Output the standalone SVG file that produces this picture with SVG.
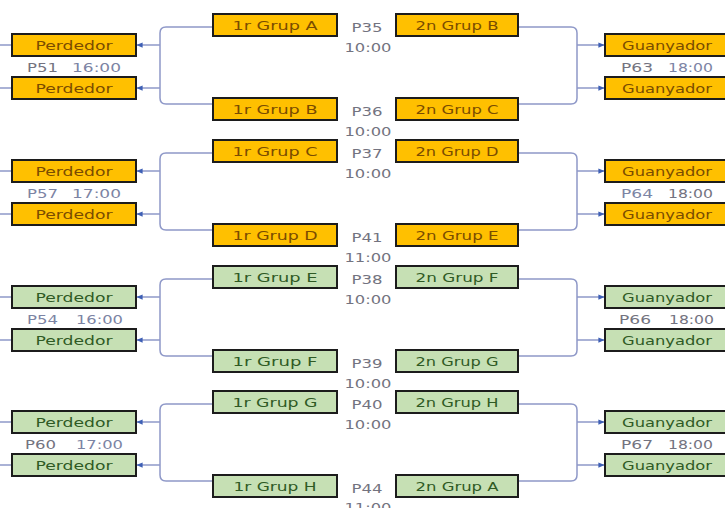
<svg xmlns="http://www.w3.org/2000/svg" width="725" height="508" viewBox="0 0 725 508">
<defs>
<marker id="ah" viewBox="0 0 8 8" refX="7.5" refY="4" markerWidth="6" markerHeight="6" orient="auto" markerUnits="userSpaceOnUse">
<path d="M0,0.5 L8,4 L0,7.5 Z" fill="#3d5fb5"/>
</marker>
<style>
text{font-family:"DejaVu Sans","Liberation Sans",sans-serif;font-size:13px}
.o rect{fill:#FFC000;stroke:#1c1c1c;stroke-width:2}
.g rect{fill:#C6E0B4;stroke:#1c1c1c;stroke-width:2}
.o text{fill:#7a4c00;text-anchor:middle}
.g text{fill:#2f5a24;text-anchor:middle}
text.lbl{fill:#737380;font-size:12px}
text.tm{fill:#7c84a4;font-size:12px}
text.st{text-anchor:start}
.conn path{fill:none;stroke:#8e98c8;stroke-width:1.5}
.conn .a{marker-end:url(#ah)}
</style>
</defs>
<rect width="725" height="508" fill="#ffffff"/>

<g class="conn" id="connectors">
<path d="M213,27 H166 Q160,27 160,33 V98 Q160,104 166,104 H213"/>
<path d="M518,27 H571 Q577,27 577,33 V98 Q577,104 571,104 H518"/>
<path class="a" d="M160,45 H137"/><path class="a" d="M160,88 H137"/>
<path class="a" d="M577,45 H604"/><path class="a" d="M577,88 H604"/>
<path d="M0,45 H12"/><path d="M0,88 H12"/>
<path d="M213,153 H166 Q160,153 160,159 V224 Q160,230 166,230 H213"/>
<path d="M518,153 H571 Q577,153 577,159 V224 Q577,230 571,230 H518"/>
<path class="a" d="M160,171 H137"/><path class="a" d="M160,214 H137"/>
<path class="a" d="M577,171 H604"/><path class="a" d="M577,214 H604"/>
<path d="M0,171 H12"/><path d="M0,214 H12"/>
<path d="M213,279 H166 Q160,279 160,285 V350 Q160,356 166,356 H213"/>
<path d="M518,279 H571 Q577,279 577,285 V350 Q577,356 571,356 H518"/>
<path class="a" d="M160,297 H137"/><path class="a" d="M160,340 H137"/>
<path class="a" d="M577,297 H604"/><path class="a" d="M577,340 H604"/>
<path d="M0,297 H12"/><path d="M0,340 H12"/>
<path d="M213,404 H166 Q160,404 160,410 V475 Q160,481 166,481 H213"/>
<path d="M518,404 H571 Q577,404 577,410 V475 Q577,481 571,481 H518"/>
<path class="a" d="M160,422 H137"/><path class="a" d="M160,465 H137"/>
<path class="a" d="M577,422 H604"/><path class="a" d="M577,465 H604"/>
<path d="M0,422 H12"/><path d="M0,465 H12"/>
</g>

<g id="p35" class="o">
<rect x="213" y="14" width="124" height="22"/><text x="275" y="30" textLength="85" lengthAdjust="spacingAndGlyphs">1r Grup A</text>
<rect x="396" y="14" width="122" height="22"/><text x="457" y="30" textLength="83" lengthAdjust="spacingAndGlyphs">2n Grup B</text>
<text class="lbl" x="367" y="32" textLength="31" lengthAdjust="spacingAndGlyphs">P35</text>
<text class="lbl" x="368" y="52" textLength="47" lengthAdjust="spacingAndGlyphs">10:00</text>
</g>
<g id="p36" class="o">
<rect x="213" y="98" width="124" height="22"/><text x="275" y="114" textLength="85" lengthAdjust="spacingAndGlyphs">1r Grup B</text>
<rect x="396" y="98" width="122" height="22"/><text x="457" y="114" textLength="83" lengthAdjust="spacingAndGlyphs">2n Grup C</text>
<text class="lbl" x="367" y="116" textLength="31" lengthAdjust="spacingAndGlyphs">P36</text>
<text class="lbl" x="368" y="136" textLength="47" lengthAdjust="spacingAndGlyphs">10:00</text>
</g>
<g id="p51" class="o">
<rect x="12" y="34" width="124" height="22"/><text x="74" y="50" textLength="77" lengthAdjust="spacingAndGlyphs">Perdedor</text>
<rect x="12" y="77" width="124" height="22"/><text x="74" y="93" textLength="77" lengthAdjust="spacingAndGlyphs">Perdedor</text>
<text class="lbl st" x="27" y="72" textLength="31" lengthAdjust="spacingAndGlyphs">P51</text>
<text class="tm st" x="72" y="72" textLength="49" lengthAdjust="spacingAndGlyphs">16:00</text>
</g>
<g id="p63" class="o">
<rect x="605" y="34" width="124" height="22"/><text x="667" y="50" textLength="90" lengthAdjust="spacingAndGlyphs">Guanyador</text>
<rect x="605" y="77" width="124" height="22"/><text x="667" y="93" textLength="90" lengthAdjust="spacingAndGlyphs">Guanyador</text>
<text class="lbl st" x="621" y="72" textLength="32" lengthAdjust="spacingAndGlyphs">P63</text>
<text class="tm st" x="668" y="72" textLength="45" lengthAdjust="spacingAndGlyphs">18:00</text>
</g>

<g id="p37" class="o">
<rect x="213" y="140" width="124" height="22"/><text x="275" y="156" textLength="85" lengthAdjust="spacingAndGlyphs">1r Grup C</text>
<rect x="396" y="140" width="122" height="22"/><text x="457" y="156" textLength="83" lengthAdjust="spacingAndGlyphs">2n Grup D</text>
<text class="lbl" x="367" y="158" textLength="31" lengthAdjust="spacingAndGlyphs">P37</text>
<text class="lbl" x="368" y="178" textLength="47" lengthAdjust="spacingAndGlyphs">10:00</text>
</g>
<g id="p41" class="o">
<rect x="213" y="224" width="124" height="22"/><text x="275" y="240" textLength="85" lengthAdjust="spacingAndGlyphs">1r Grup D</text>
<rect x="396" y="224" width="122" height="22"/><text x="457" y="240" textLength="83" lengthAdjust="spacingAndGlyphs">2n Grup E</text>
<text class="lbl" x="367" y="242" textLength="31" lengthAdjust="spacingAndGlyphs">P41</text>
<text class="lbl" x="368" y="262" textLength="47" lengthAdjust="spacingAndGlyphs">11:00</text>
</g>
<g id="p57" class="o">
<rect x="12" y="160" width="124" height="22"/><text x="74" y="176" textLength="77" lengthAdjust="spacingAndGlyphs">Perdedor</text>
<rect x="12" y="203" width="124" height="22"/><text x="74" y="219" textLength="77" lengthAdjust="spacingAndGlyphs">Perdedor</text>
<text class="tm st" x="27" y="198" textLength="31" lengthAdjust="spacingAndGlyphs">P57</text>
<text class="tm st" x="72" y="198" textLength="49" lengthAdjust="spacingAndGlyphs">17:00</text>
</g>
<g id="p64" class="o">
<rect x="605" y="160" width="124" height="22"/><text x="667" y="176" textLength="90" lengthAdjust="spacingAndGlyphs">Guanyador</text>
<rect x="605" y="203" width="124" height="22"/><text x="667" y="219" textLength="90" lengthAdjust="spacingAndGlyphs">Guanyador</text>
<text class="tm st" x="621" y="198" textLength="32" lengthAdjust="spacingAndGlyphs">P64</text>
<text class="lbl st" x="668" y="198" textLength="45" lengthAdjust="spacingAndGlyphs">18:00</text>
</g>

<g id="p38" class="g">
<rect x="213" y="266" width="124" height="22"/><text x="275" y="282" textLength="85" lengthAdjust="spacingAndGlyphs">1r Grup E</text>
<rect x="396" y="266" width="122" height="22"/><text x="457" y="282" textLength="83" lengthAdjust="spacingAndGlyphs">2n Grup F</text>
<text class="lbl" x="367" y="284" textLength="31" lengthAdjust="spacingAndGlyphs">P38</text>
<text class="lbl" x="368" y="304" textLength="47" lengthAdjust="spacingAndGlyphs">10:00</text>
</g>
<g id="p39" class="g">
<rect x="213" y="350" width="124" height="22"/><text x="275" y="366" textLength="85" lengthAdjust="spacingAndGlyphs">1r Grup F</text>
<rect x="396" y="350" width="122" height="22"/><text x="457" y="366" textLength="83" lengthAdjust="spacingAndGlyphs">2n Grup G</text>
<text class="lbl" x="367" y="368" textLength="31" lengthAdjust="spacingAndGlyphs">P39</text>
<text class="lbl" x="368" y="388" textLength="47" lengthAdjust="spacingAndGlyphs">10:00</text>
</g>
<g id="p54" class="g">
<rect x="12" y="286" width="124" height="22"/><text x="74" y="302" textLength="77" lengthAdjust="spacingAndGlyphs">Perdedor</text>
<rect x="12" y="329" width="124" height="22"/><text x="74" y="345" textLength="77" lengthAdjust="spacingAndGlyphs">Perdedor</text>
<text class="tm st" x="27" y="324" textLength="31" lengthAdjust="spacingAndGlyphs">P54</text>
<text class="tm st" x="76" y="324" textLength="47" lengthAdjust="spacingAndGlyphs">16:00</text>
</g>
<g id="p66" class="g">
<rect x="605" y="286" width="124" height="22"/><text x="667" y="302" textLength="90" lengthAdjust="spacingAndGlyphs">Guanyador</text>
<rect x="605" y="329" width="124" height="22"/><text x="667" y="345" textLength="90" lengthAdjust="spacingAndGlyphs">Guanyador</text>
<text class="lbl st" x="619" y="324" textLength="32" lengthAdjust="spacingAndGlyphs">P66</text>
<text class="lbl st" x="669" y="324" textLength="45" lengthAdjust="spacingAndGlyphs">18:00</text>
</g>

<g id="p40" class="g">
<rect x="213" y="391" width="124" height="22"/><text x="275" y="407" textLength="85" lengthAdjust="spacingAndGlyphs">1r Grup G</text>
<rect x="396" y="391" width="122" height="22"/><text x="457" y="407" textLength="83" lengthAdjust="spacingAndGlyphs">2n Grup H</text>
<text class="lbl" x="367" y="409" textLength="31" lengthAdjust="spacingAndGlyphs">P40</text>
<text class="lbl" x="368" y="429" textLength="47" lengthAdjust="spacingAndGlyphs">10:00</text>
</g>
<g id="p44" class="g">
<rect x="213" y="475" width="124" height="22"/><text x="275" y="491" textLength="83" lengthAdjust="spacingAndGlyphs">1r Grup H</text>
<rect x="396" y="475" width="122" height="22"/><text x="457" y="491" textLength="83" lengthAdjust="spacingAndGlyphs">2n Grup A</text>
<text class="lbl" x="367" y="493" textLength="31" lengthAdjust="spacingAndGlyphs">P44</text>
<text class="lbl" x="368" y="512" textLength="47" lengthAdjust="spacingAndGlyphs">11:00</text>
</g>
<g id="p60" class="g">
<rect x="12" y="411" width="124" height="22"/><text x="74" y="427" textLength="77" lengthAdjust="spacingAndGlyphs">Perdedor</text>
<rect x="12" y="454" width="124" height="22"/><text x="74" y="470" textLength="77" lengthAdjust="spacingAndGlyphs">Perdedor</text>
<text class="lbl st" x="25" y="449" textLength="31" lengthAdjust="spacingAndGlyphs">P60</text>
<text class="tm st" x="76" y="449" textLength="47" lengthAdjust="spacingAndGlyphs">17:00</text>
</g>
<g id="p67" class="g">
<rect x="605" y="411" width="124" height="22"/><text x="667" y="427" textLength="90" lengthAdjust="spacingAndGlyphs">Guanyador</text>
<rect x="605" y="454" width="124" height="22"/><text x="667" y="470" textLength="90" lengthAdjust="spacingAndGlyphs">Guanyador</text>
<text class="lbl st" x="621" y="449" textLength="32" lengthAdjust="spacingAndGlyphs">P67</text>
<text class="lbl st" x="668" y="449" textLength="45" lengthAdjust="spacingAndGlyphs">18:00</text>
</g>
</svg>
